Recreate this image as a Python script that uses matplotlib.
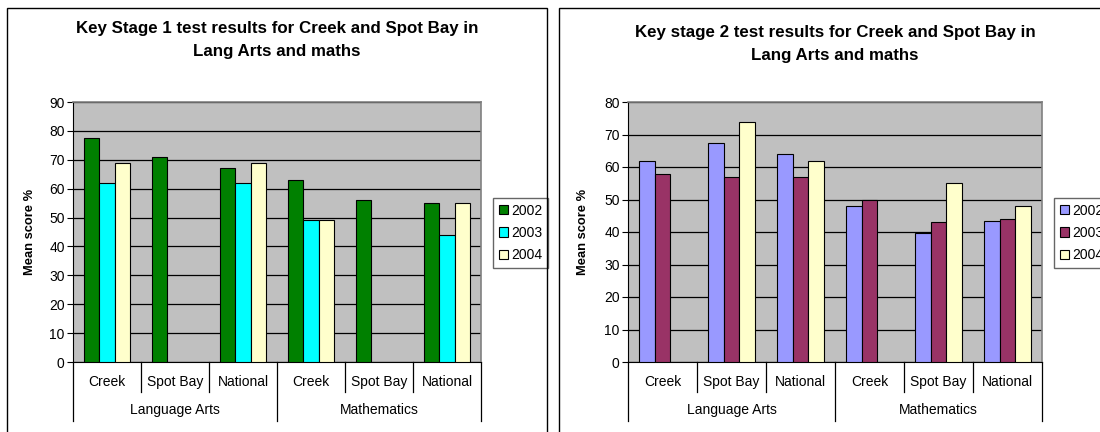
import numpy as np
import matplotlib.pyplot as plt
from matplotlib.patches import Rectangle
from matplotlib.transforms import blended_transform_factory

plt.rcParams['font.family'] = ['Liberation Sans', 'DejaVu Sans']

W, H = 1100, 432

schools = ["Creek", "Spot Bay", "National", "Creek", "Spot Bay", "National"]
subjects = ["Language Arts", "Mathematics"]
years = ["2002", "2003", "2004"]

# Key stage 1 mean scores, one list per year (nan = no result)
ks1_2002 = [77.5, 71, 67, 63, 56, 55]
ks1_2003 = [62, np.nan, 62, 49, np.nan, 44]
ks1_2004 = [69, np.nan, 69, 49, np.nan, 55]

# Key stage 2 mean scores
ks2_2002 = [62, 67.3, 64, 48, 39.8, 43.5]
ks2_2003 = [58, 57, 57, 50, 43.2, 44.1]
ks2_2004 = [np.nan, 74, 62, np.nan, 55.1, 48]

ks1_colors = ["#008000", "#00FFFF", "#FFFFCC"]
ks2_colors = ["#9999FF", "#993366", "#FFFFCC"]


def fig_box(left, top, width, height):
    # pixel box -> figure fraction
    return [left / W, 1 - (top + height) / H, width / W, height / H]


def draw_chart(fig, pos, series, colors, ymax, title, title_xy, ylabel_x, legend_xy):
    ax = fig.add_axes(fig_box(*pos))
    ax.set_facecolor("#C0C0C0")
    x = np.arange(len(schools))
    bw = 0.225
    for i, (vals, col) in enumerate(zip(series, colors)):
        ax.bar(x + (i - 1) * bw, vals, bw, color=col, edgecolor="black",
               linewidth=0.8, label=years[i], zorder=3)
    ax.set_xlim(-0.5, len(schools) - 0.5)
    ax.set_ylim(0, ymax)
    ax.set_yticks(np.arange(0, ymax + 1, 10))
    ax.yaxis.grid(True, color="black", linewidth=0.9, zorder=1)
    ax.set_axisbelow(True)
    ax.set_xticks([])
    ax.tick_params(axis="y", direction="out", length=4, labelsize=10, pad=2)
    for s in ["top", "right"]:
        ax.spines[s].set_color("#808080")
        ax.spines[s].set_linewidth(1.2)
    ax.spines["left"].set_color("black")
    ax.spines["bottom"].set_color("black")

    # two-level category axis
    h = pos[3]
    tr = blended_transform_factory(ax.transData, ax.transAxes)
    for b in np.arange(-0.5, len(schools), 1.0):
        depth = 59 if b in (-0.5, 2.5, 5.5) else 30
        ax.plot([b, b], [0, -depth / h], color="black", linewidth=0.9,
                transform=tr, clip_on=False)
    for xi, name in zip(x, schools):
        ax.text(xi, -20 / h, name, transform=tr, ha="center", va="center", fontsize=10)
    for k, subj in enumerate(subjects):
        ax.text(1 + 3 * k, -48 / h, subj, transform=tr, ha="center", va="center", fontsize=10)

    fig.text(title_xy[0] / W, 1 - title_xy[1] / H, title, ha="center", va="center",
             fontsize=12.2, fontweight="bold", linespacing=1.62)
    fig.text(ylabel_x / W, 1 - 232 / H, "Mean score %", rotation=90, ha="center",
             va="center", fontsize=9.3, fontweight="bold")

    leg = ax.legend(loc="upper left", bbox_to_anchor=(legend_xy[0] / W, 1 - legend_xy[1] / H),
                    bbox_transform=fig.transFigure, fontsize=10, frameon=True,
                    fancybox=False, handlelength=0.65, handleheight=0.65,
                    handletextpad=0.25, labelspacing=0.6, borderpad=0.4,
                    borderaxespad=0)
    leg.get_frame().set_edgecolor("#404040")
    leg.get_frame().set_linewidth(1.0)
    return ax


fig = plt.figure(figsize=(W / 100, H / 100), dpi=100)

# outer chart frames
fig.add_artist(Rectangle((7 / W, -0.1), 540 / W, 1.1 - 8 / H, transform=fig.transFigure,
                         fill=False, edgecolor="black", linewidth=1))
fig.add_artist(Rectangle((559 / W, -0.1), 600 / W, 1.1 - 8 / H, transform=fig.transFigure,
                         fill=False, edgecolor="black", linewidth=1))

draw_chart(fig, (73, 102, 408, 260), [ks1_2002, ks1_2003, ks1_2004], ks1_colors, 90,
           "Key Stage 1 test results for Creek and Spot Bay in\nLang Arts and maths",
           (277, 40), 30, (493, 198))
draw_chart(fig, (628, 102, 414, 260), [ks2_2002, ks2_2003, ks2_2004], ks2_colors, 80,
           "Key stage 2 test results for Creek and Spot Bay in\nLang Arts and maths",
           (835, 44), 583, (1054, 198))

fig.savefig("out.png", dpi=100)
